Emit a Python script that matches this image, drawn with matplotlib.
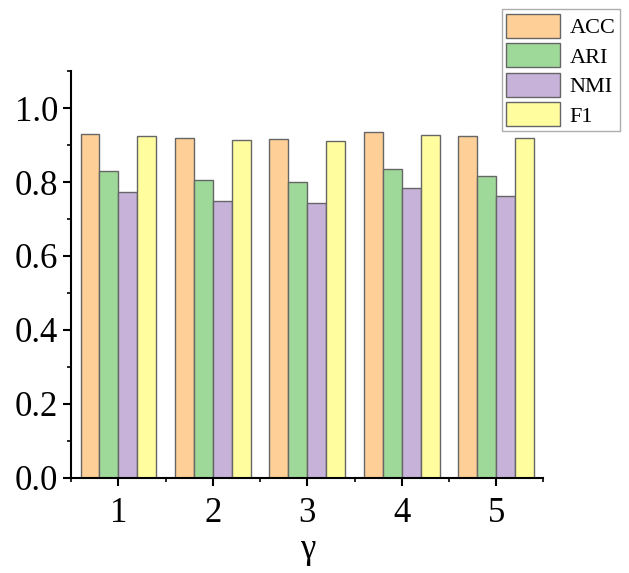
import numpy as np
import matplotlib.pyplot as plt
from matplotlib.ticker import MultipleLocator

# valeurs
gammas = [1, 2, 3, 4, 5]
acc = [0.930, 0.919, 0.915, 0.934, 0.924]
ari = [0.830, 0.805, 0.801, 0.836, 0.817]
nmi = [0.773, 0.748, 0.742, 0.783, 0.763]
f1 = [0.924, 0.914, 0.911, 0.928, 0.919]

labels = ["ACC", "ARI", "NMI", "F1"]
colors = ["#FECF96", "#9ED99A", "#C7B3DA", "#FFFD9E"]

plt.rcParams['font.family'] = ['Liberation Serif', 'DejaVu Serif']

fig = plt.figure(figsize=(6.29, 5.73), dpi=100)
ax = fig.add_axes([0.113, 0.166, 0.751, 0.710])

x = np.array(gammas)
w = 0.2
series = [acc, ari, nmi, f1]
for i, vals in enumerate(series):
    ax.bar(x + (i - 1.5) * w, vals, width=w, color=colors[i],
           edgecolor="#666666", linewidth=1.0, label=labels[i])

ax.set_xlim(0.5, 5.5)
ax.set_ylim(0, 1.1)
ax.set_xticks(gammas)
ax.xaxis.set_minor_locator(plt.FixedLocator([0.5, 1.5, 2.5, 3.5, 4.5, 5.5]))
ax.set_yticks([0, 0.2, 0.4, 0.6, 0.8, 1.0])
ax.set_yticklabels(["0.0", "0.2", "0.4", "0.6", "0.8", "1.0"])
ax.yaxis.set_minor_locator(MultipleLocator(0.1))

for s in ["top", "right"]:
    ax.spines[s].set_visible(False)
for s in ["left", "bottom"]:
    ax.spines[s].set_linewidth(1.5)

ax.tick_params(axis="both", which="major", direction="out", length=6, width=1.5, labelsize=25)
ax.tick_params(axis="x", which="major", pad=8)
ax.tick_params(axis="both", which="minor", direction="out", length=3, width=1.2)
ax.set_xlabel("γ", fontsize=25, labelpad=2)

leg = fig.legend(loc="upper left", bbox_to_anchor=(0.798, 0.984), fontsize=16,
                 handlelength=2.4, handleheight=1.3, labelspacing=0.22,
                 handletextpad=0.45, borderpad=0.2, borderaxespad=0,
                 fancybox=False, edgecolor="#999999")
leg.get_frame().set_linewidth(1.0)

plt.savefig("out.png", dpi=100)
